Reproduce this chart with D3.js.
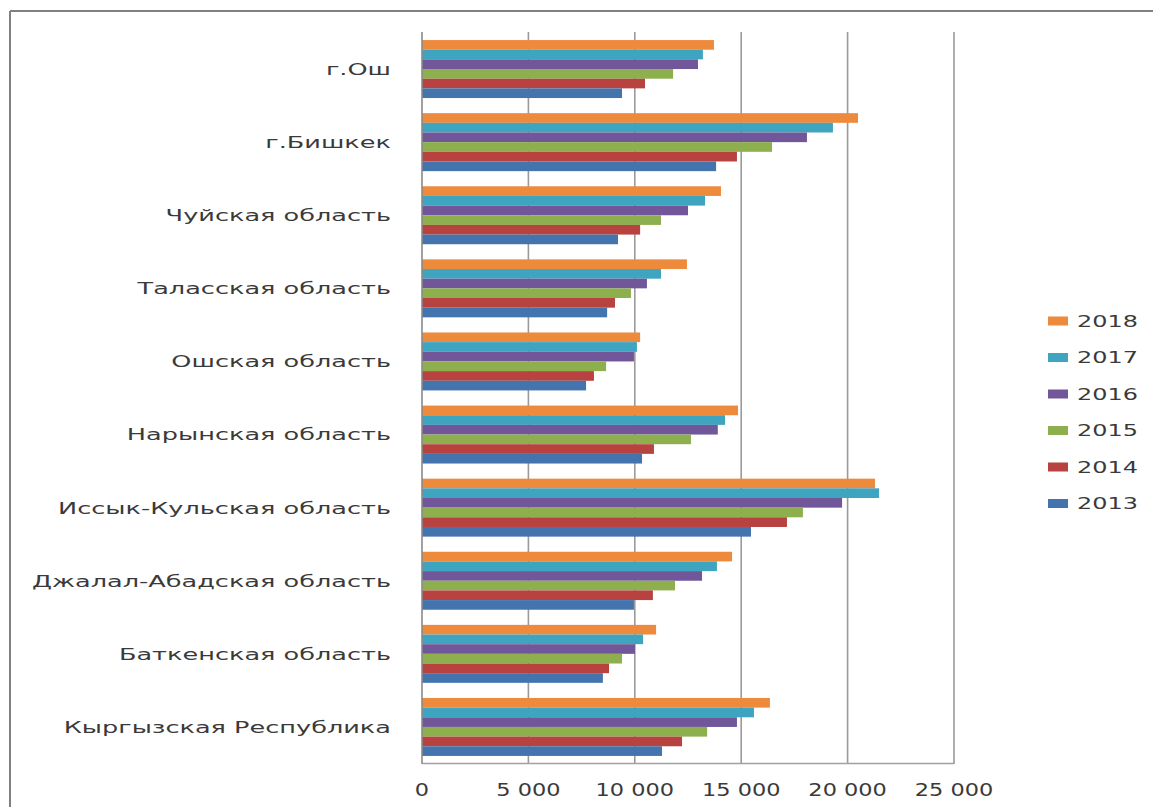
<!DOCTYPE html>
<html>
<head>
<meta charset="utf-8">
<script src="https://cdn.jsdelivr.net/npm/d3@7"></script>
<style>
  html, body { margin: 0; padding: 0; background: #fff; }
  svg { display: block; }
  text { font-family: "DejaVu Sans", sans-serif; fill: #3a3a3a; }
</style>
</head>
<body>
<svg id="chart" width="1153" height="807"></svg>
<script>
const categories = [
  "г.Ош",
  "г.Бишкек",
  "Чуйская область",
  "Таласская область",
  "Ошская область",
  "Нарынская область",
  "Иссык-Кульская область",
  "Джалал-Абадская область",
  "Баткенская область",
  "Кыргызская Республика"
];
const years = ["2018", "2017", "2016", "2015", "2014", "2013"];
const v2018 = [13720, 20490, 14050, 12450, 10250, 14850, 21290, 14570, 11000, 16350];
const v2017 = [13200, 19310, 13300, 11230, 10100, 14240, 21480, 13860, 10390, 15600];
const v2016 = [12970, 18090, 12500, 10570, 9960, 13900, 19740, 13160, 10010, 14800];
const v2015 = [11800, 16450, 11230, 9820, 8650, 12640, 17900, 11890, 9400, 13400];
const v2014 = [10480, 14800, 10250, 9070, 8080, 10900, 17150, 10850, 8790, 12220];
const v2013 = [9400, 13820, 9210, 8700, 7710, 10340, 15460, 9960, 8500, 11280];
const xTicks = [0, 5000, 10000, 15000, 20000, 25000];

const seriesValues = { "2018": v2018, "2017": v2017, "2016": v2016, "2015": v2015, "2014": v2014, "2013": v2013 };
const colors = { "2018": "#EE8A3C", "2017": "#3FA4C0", "2016": "#71579A", "2015": "#8DAF4E", "2014": "#B8423F", "2013": "#4474AE" };

const svg = d3.select("#chart");
const TX = 1.55; // horizontal stretch of text, like the reference

// outer frame
svg.append("line").attr("x1", 10).attr("x2", 1153).attr("y1", 11).attr("y2", 11)
  .attr("stroke", "#808080").attr("stroke-width", 2);
svg.append("line").attr("x1", 10).attr("x2", 10).attr("y1", 11).attr("y2", 807)
  .attr("stroke", "#808080").attr("stroke-width", 2);

const x = d3.scaleLinear().domain([0, 25000]).range([422, 954]);
const y = d3.scaleBand().domain(categories).range([32.5, 763.5]).paddingInner(0.207).paddingOuter(0.1035);
const ySub = d3.scaleBand().domain(years).range([0, y.bandwidth()]);

// gridlines
svg.append("g").selectAll("line").data(xTicks.slice(1)).join("line")
  .attr("x1", d => x(d)).attr("x2", d => x(d))
  .attr("y1", 32).attr("y2", 764)
  .attr("stroke", "#9a9a9a").attr("stroke-width", 1.6);

// bars
const groups = svg.append("g").selectAll("g").data(categories).join("g")
  .attr("transform", c => `translate(0,${y(c)})`);
groups.selectAll("rect").data((c, i) => years.map(yr => ({ yr, v: seriesValues[yr][i] }))).join("rect")
  .attr("x", x(0))
  .attr("y", d => ySub(d.yr))
  .attr("width", d => x(d.v) - x(0))
  .attr("height", ySub.bandwidth())
  .attr("fill", d => colors[d.yr]);

// axes lines
svg.append("line").attr("x1", x(0)).attr("x2", x(0)).attr("y1", 32).attr("y2", 764)
  .attr("stroke", "#8a8a8a").attr("stroke-width", 1.6);
svg.append("line").attr("x1", x(0)).attr("x2", x(25000)).attr("y1", 763.5).attr("y2", 763.5)
  .attr("stroke", "#a0a0a0").attr("stroke-width", 1.4);

// category labels
svg.append("g").selectAll("text").data(categories).join("text")
  .attr("transform", c => `translate(391,${y(c) + y.bandwidth() / 2}) scale(${TX},1)`)
  .attr("text-anchor", "end")
  .attr("dy", "0.36em")
  .style("font-size", "16.5px")
  .text(c => c);

// tick labels
const fmt = v => d3.format(",")(v).replace(/,/g, " ");
svg.append("g").selectAll("text").data(xTicks).join("text")
  .attr("transform", d => `translate(${x(d)},790) scale(1.32,1)`)
  .attr("text-anchor", "middle")
  .attr("dy", "0.36em")
  .style("font-size", "17px")
  .text(d => fmt(d));

// legend
const legend = svg.append("g").selectAll("g").data(years).join("g")
  .attr("transform", (d, i) => `translate(1048,${321 + i * 36.5})`);
legend.append("rect").attr("x", 0).attr("y", -4.5).attr("width", 20).attr("height", 9)
  .attr("fill", d => colors[d]);
legend.append("text")
  .attr("transform", `translate(29,0) scale(1.45,1)`)
  .attr("dy", "0.36em")
  .style("font-size", "16.5px")
  .text(d => d);
</script>
</body>
</html>
